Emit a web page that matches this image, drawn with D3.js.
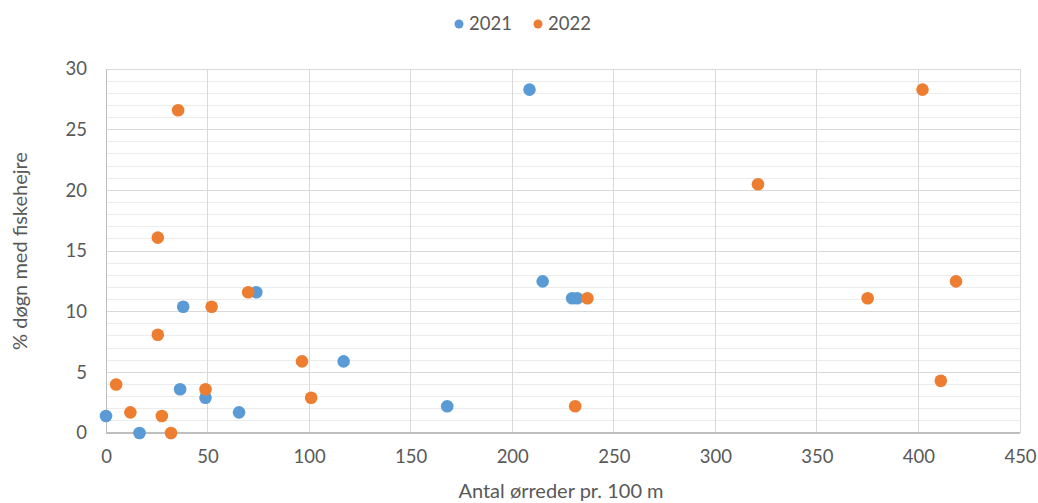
<!DOCTYPE html>
<html>
<head>
<meta charset="utf-8">
<script src="https://cdn.jsdelivr.net/npm/d3@7"></script>
<style>
  html, body { margin: 0; padding: 0; background: #fff; }
  svg text { font-family: Lato, "Open Sans", sans-serif; fill: #595959; }
</style>
</head>
<body>
<svg id="chart" width="1038" height="503"></svg>
<script>
// Trout density vs. share of days with heron present
const series2021X = [0, 16.5, 36.5, 38, 49, 65.5, 74, 117, 168, 208.5, 215, 229.5, 232];
const series2021Y = [1.4, 0, 3.6, 10.4, 2.9, 1.7, 11.6, 5.9, 2.2, 28.3, 12.5, 11.1, 11.1];
const series2022X = [5, 12, 25.5, 25.5, 27.5, 32, 35.5, 49, 52, 70, 96.5, 101, 231, 237, 321, 375, 402, 411, 418.5];
const series2022Y = [4.0, 1.7, 16.1, 8.1, 1.4, 0, 26.6, 3.6, 10.4, 11.6, 5.9, 2.9, 2.2, 11.1, 20.5, 11.1, 28.3, 4.3, 12.5];
const seriesNames = ["2021", "2022"];
const seriesColors = ["#5B9BD5", "#ED7D31"];
const xTicks = [0, 50, 100, 150, 200, 250, 300, 350, 400, 450];
const yTicks = [0, 5, 10, 15, 20, 25, 30];
const xTitle = "Antal ørreder pr. 100 m";
const yTitle = "% døgn med fiskehejre";

const svg = d3.select("#chart");
const m = { left: 106, right: 1020, top: 69, bottom: 433 };

const x = d3.scaleLinear().domain([0, 450]).range([m.left, m.right]);
const y = d3.scaleLinear().domain([0, 30]).range([m.bottom, m.top]);

// minor horizontal gridlines (every 1 unit)
svg.append("g")
  .selectAll("line")
  .data(d3.range(1, 30).filter(v => v % 5 !== 0))
  .join("line")
  .attr("x1", m.left).attr("x2", m.right)
  .attr("y1", d => y(d)).attr("y2", d => y(d))
  .attr("stroke", "#ececec").attr("stroke-width", 1)
  .attr("shape-rendering", "crispEdges");

// major horizontal gridlines
svg.append("g")
  .selectAll("line")
  .data(yTicks.filter(v => v !== 0))
  .join("line")
  .attr("x1", m.left).attr("x2", m.right)
  .attr("y1", d => y(d)).attr("y2", d => y(d))
  .attr("stroke", "#d9d9d9").attr("stroke-width", 1)
  .attr("shape-rendering", "crispEdges");

// vertical gridlines
svg.append("g")
  .selectAll("line")
  .data(xTicks)
  .join("line")
  .attr("x1", d => x(d)).attr("x2", d => x(d))
  .attr("y1", m.top).attr("y2", m.bottom)
  .attr("stroke", d => d === 0 ? "#bfbfbf" : "#d9d9d9").attr("stroke-width", 1)
  .attr("shape-rendering", "crispEdges");

// x axis line
svg.append("line")
  .attr("x1", m.left).attr("x2", m.right)
  .attr("y1", y(0)).attr("y2", y(0))
  .attr("stroke", "#bfbfbf").attr("stroke-width", 1.5)
  .attr("shape-rendering", "crispEdges");

// axes (labels only)
const xAxis = svg.append("g")
  .attr("transform", `translate(0,${y(0)})`)
  .call(d3.axisBottom(x).tickValues(xTicks).tickSize(0).tickPadding(17).tickFormat(d3.format("d")));
xAxis.select(".domain").remove();
xAxis.selectAll("text").style("font-size", "18.5px").attr("fill", "#595959");

const yAxis = svg.append("g")
  .attr("transform", `translate(${m.left},0)`)
  .call(d3.axisLeft(y).tickValues(yTicks).tickSize(0).tickPadding(19).tickFormat(d3.format("d")));
yAxis.select(".domain").remove();
yAxis.selectAll("text").style("font-size", "18.5px").attr("fill", "#595959");

// axis titles
svg.append("text")
  .attr("x", 561)
  .attr("y", 498)
  .attr("text-anchor", "middle")
  .style("font-size", "20px")
  .text(xTitle);

svg.append("text")
  .attr("transform", `translate(27,${(m.top + m.bottom) / 2}) rotate(-90)`)
  .attr("text-anchor", "middle")
  .style("font-size", "20px")
  .text(yTitle);

// points
const data = [
  series2021X.map((v, i) => ({ x: v, y: series2021Y[i], s: 0 })),
  series2022X.map((v, i) => ({ x: v, y: series2022Y[i], s: 1 }))
];
data.forEach(points => {
  svg.append("g")
    .selectAll("circle")
    .data(points)
    .join("circle")
    .attr("cx", d => x(d.x))
    .attr("cy", d => y(d.y))
    .attr("r", 6.3)
    .attr("fill", d => seriesColors[d.s]);
});

// legend
const legend = svg.append("g").attr("transform", "translate(459,24)");
const legendItems = legend.selectAll("g")
  .data(seriesNames)
  .join("g")
  .attr("transform", (d, i) => `translate(${i * 79},0)`);
legendItems.append("circle")
  .attr("r", 4.5)
  .attr("fill", (d, i) => seriesColors[i]);
legendItems.append("text")
  .attr("x", 10)
  .attr("dy", "0.35em")
  .style("font-size", "18.5px")
  .text(d => d);
</script>
</body>
</html>
